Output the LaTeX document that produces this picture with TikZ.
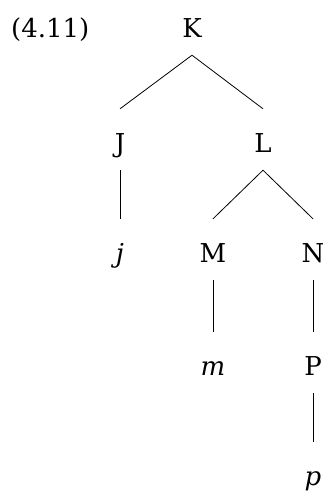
\documentclass[tikz,border=0pt]{standalone}
\usepackage{fontspec}
\setmainfont{DejaVu Serif}
\begin{document}
\begin{tikzpicture}[x=1pt,y=1pt,
  lab/.style={anchor=base,inner sep=0pt,text height=43pt,text depth=18pt,font=\fontsize{26}{30}\selectfont},
  edge/.style={line width=0.8pt}]
\useasboundingbox (0,0) rectangle (323,-491);
\node[anchor=base west,inner sep=0pt,font=\fontsize{26}{30}\selectfont] (num) at (11,-37) {(4.11)};
\node[lab] (K) at (192,-37) {K};
\node[lab] (J) at (120,-152) {J};
\node[lab] (L) at (263,-152) {L};
\node[lab] (j) at (120,-262) {\itshape j};
\node[lab] (M) at (213,-262) {M};
\node[lab] (N) at (313,-262) {N};
\node[lab] (m) at (213,-375) {\itshape m};
\node[lab] (P) at (313,-375) {P};
\node[lab] (p) at (313,-485) {\itshape p};
\draw[edge] (K.south) -- (J.north);
\draw[edge] (K.south) -- (L.north);
\draw[edge] (J.south) -- (j.north);
\draw[edge] (L.south) -- (M.north);
\draw[edge] (L.south) -- (N.north);
\draw[edge] (M.south) -- (m.north);
\draw[edge] (N.south) -- (P.north);
\draw[edge] (P.south) -- (p.north);
\end{tikzpicture}
\end{document}
